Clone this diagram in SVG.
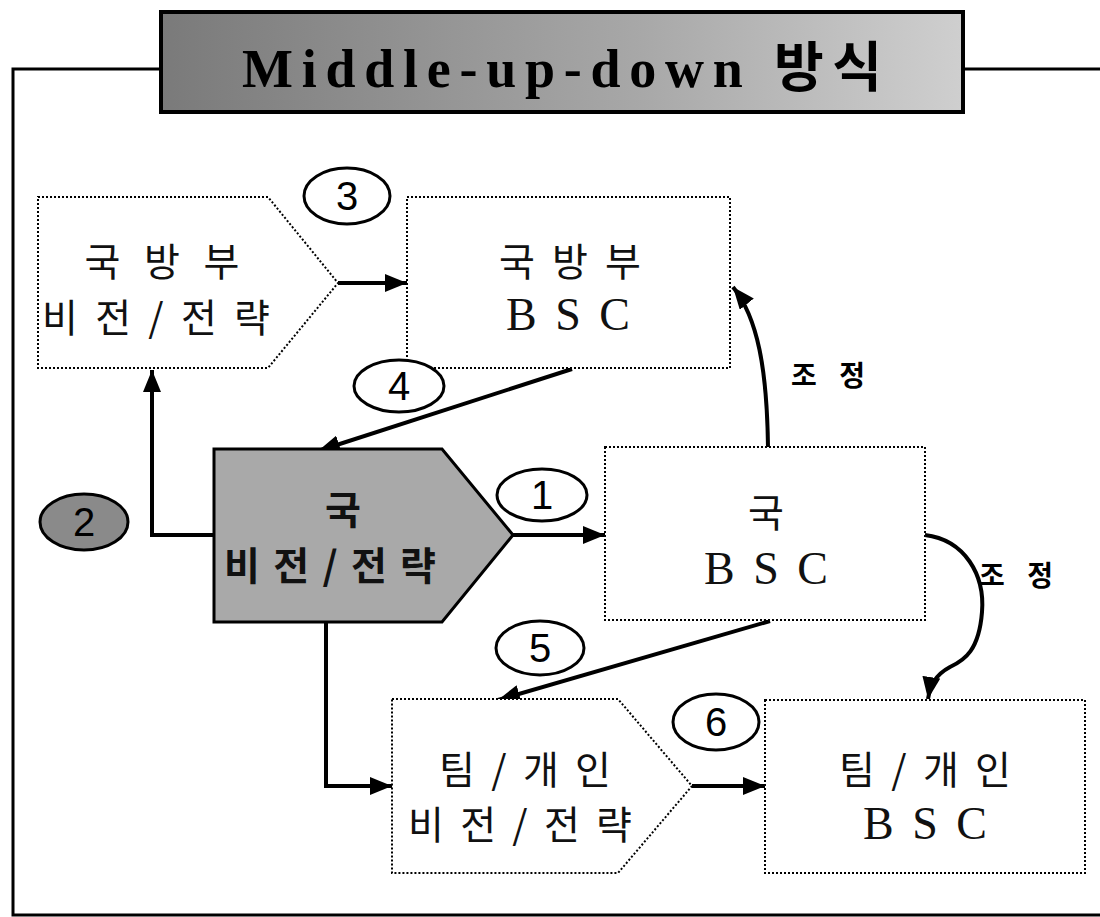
<svg xmlns="http://www.w3.org/2000/svg" width="1100" height="917" viewBox="0 0 1100 917">
<defs>
<linearGradient id="tg" x1="0" y1="0" x2="1" y2="0">
<stop offset="0" stop-color="#7a7a7a"/>
<stop offset="0.6" stop-color="#a8a8a8"/>
<stop offset="1" stop-color="#cfcfcf"/>
</linearGradient>
<marker id="ah" markerUnits="userSpaceOnUse" markerWidth="24" markerHeight="18" refX="22" refY="9" orient="auto">
<path d="M0,0 L22,9 L0,18 z" fill="#000"/>
</marker>
<style>
.node{fill:#fff;stroke:#000;stroke-width:2;stroke-dasharray:2 2}
.kr{font-family:"Noto Sans CJK KR","Noto Sans",sans-serif;font-size:39px;fill:#111;text-anchor:middle}
.bsc{font-family:"Liberation Serif",serif;font-size:46px;fill:#111;text-anchor:middle}
.num{font-family:"Liberation Sans",sans-serif;font-size:40px;fill:#000;text-anchor:middle}
.oval{fill:#fff;stroke:#000;stroke-width:3}
.conn{fill:none;stroke:#000;stroke-width:4;marker-end:url(#ah)}
.adj{font-family:"Noto Sans CJK KR",sans-serif;font-size:28px;font-weight:bold;fill:#000;text-anchor:middle}
</style>
</defs>
<rect width="1100" height="917" fill="#fff"/>
<g id="frame">
<polyline points="161,69 13,69 13,915 1100,915" fill="none" stroke="#000" stroke-width="3"/>
<line x1="963" y1="69" x2="1100" y2="69" stroke="#000" stroke-width="3"/>
</g>
<g id="title">
<rect x="161" y="12" width="802" height="100" fill="url(#tg)" stroke="#000" stroke-width="4"/>
<text x="562" y="87" font-family="Liberation Serif,'Noto Sans CJK KR',serif" font-weight="bold" font-size="54" text-anchor="middle" textLength="640" lengthAdjust="spacing" fill="#000">Middle-up-down 방식</text>
</g>
<g id="connectors">
<line class="conn" x1="338" y1="283" x2="407" y2="283"/>
<line class="conn" x1="572" y1="369" x2="318" y2="451"/>
<polyline class="conn" points="214,535 152,535 152,370"/>
<line class="conn" x1="513" y1="535" x2="605" y2="535"/>
<path class="conn" d="M768,447 C767,370 758,318 733,287"/>
<path class="conn" d="M925,535 C965,540 985,575 982,612 C979,650 965,660 950,667 C935,675 930,686 928,699"/>
<line class="conn" x1="770" y1="621" x2="498" y2="700"/>
<polyline class="conn" points="326,622 326,786 392,786"/>
<line class="conn" x1="692" y1="786" x2="765" y2="786"/>
</g>
<g id="n-mnd-vision">
<polygon class="node" points="38,197 268,197 338,283 268,368 38,368"/>
<text class="kr" x="162" y="276" textLength="155" lengthAdjust="spacing">국방부</text>
<text class="kr" x="156" y="332" textLength="228" lengthAdjust="spacing">비전/전략</text>
</g>
<g id="n-mnd-bsc">
<rect class="node" x="407" y="197" width="323" height="171"/>
<text class="kr" x="570" y="276" textLength="142" lengthAdjust="spacing">국방부</text>
<text class="bsc" x="568" y="330" textLength="124" lengthAdjust="spacing">BSC</text>
</g>
<g id="n-bureau-vision">
<polygon points="214,449 442,449 513,535 442,622 214,622" fill="#a9a9a9" stroke="#000" stroke-width="3"/>
<text class="kr" x="343" y="524" font-weight="bold">국</text>
<text class="kr" x="330" y="580" font-weight="bold" textLength="212" lengthAdjust="spacing">비전/전략</text>
</g>
<g id="n-bureau-bsc">
<rect class="node" x="605" y="447" width="320" height="173"/>
<text class="kr" x="766" y="527">국</text>
<text class="bsc" x="766" y="584" textLength="124" lengthAdjust="spacing">BSC</text>
</g>
<g id="n-team-vision">
<polygon class="node" points="392,699 618,699 692,786 618,873 392,873"/>
<text class="kr" x="525" y="784" textLength="172" lengthAdjust="spacing">팀/개인</text>
<text class="kr" x="520" y="839" textLength="224" lengthAdjust="spacing">비전/전략</text>
</g>
<g id="n-team-bsc">
<rect class="node" x="765" y="700" width="320" height="173"/>
<text class="kr" x="925" y="784" textLength="172" lengthAdjust="spacing">팀/개인</text>
<text class="bsc" x="925" y="839" textLength="124" lengthAdjust="spacing">BSC</text>
</g>
<g id="step-1"><ellipse class="oval" cx="542" cy="495" rx="45" ry="26"/><text class="num" x="542" y="509">1</text></g>
<g id="step-2"><ellipse cx="84" cy="522" rx="44" ry="28" fill="#8a8a8a" stroke="#000" stroke-width="3"/><text class="num" x="84" y="536" fill="#333">2</text></g>
<g id="step-3"><ellipse class="oval" cx="347" cy="196" rx="43" ry="28"/><text class="num" x="347" y="210">3</text></g>
<g id="step-4"><ellipse class="oval" cx="399" cy="386" rx="45" ry="26"/><text class="num" x="399" y="400">4</text></g>
<g id="step-5"><ellipse class="oval" cx="540" cy="648" rx="44" ry="27"/><text class="num" x="540" y="662">5</text></g>
<g id="step-6"><ellipse class="oval" cx="716" cy="722" rx="43" ry="28"/><text class="num" x="716" y="736">6</text></g>
<g id="labels">
<text class="adj" x="828" y="386" textLength="74" lengthAdjust="spacing">조정</text>
<text class="adj" x="1016" y="586" textLength="74" lengthAdjust="spacing">조정</text>
</g>
</svg>
